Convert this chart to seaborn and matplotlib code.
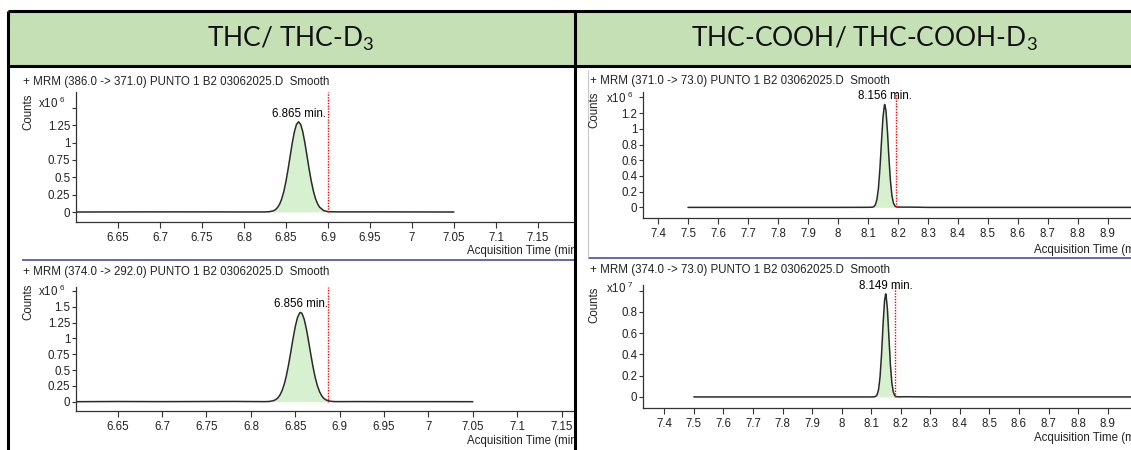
import numpy as np
import matplotlib
matplotlib.use("Agg")
import matplotlib.pyplot as plt
import seaborn as sns
from matplotlib.patches import Rectangle
from matplotlib.transforms import Bbox

W, H = 1131, 450

# column headers
headers = ["THC/ THC-D$_\\mathregular{3}$", "THC-COOH/ THC-COOH-D$_\\mathregular{3}$"]

# panel titles
titles = [
    "+ MRM (386.0 -> 371.0) PUNTO 1 B2 03062025.D  Smooth",
    "+ MRM (371.0 -> 73.0) PUNTO 1 B2 03062025.D  Smooth",
    "+ MRM (374.0 -> 292.0) PUNTO 1 B2 03062025.D  Smooth",
    "+ MRM (374.0 -> 73.0) PUNTO 1 B2 03062025.D  Smooth",
]
exponents = [6, 6, 6, 7]

# THC 386 -> 371 (x10^6 counts)
thc_time = [6.600, 6.700, 6.790, 6.825, 6.830, 6.835, 6.8375, 6.840, 6.8425, 6.845,
            6.8475, 6.850, 6.8525, 6.855, 6.8575, 6.860, 6.8625, 6.865, 6.8675, 6.870,
            6.8725, 6.875, 6.8775, 6.880, 6.8825, 6.885, 6.8875, 6.890, 6.895, 6.900,
            6.910, 6.950, 7.000, 7.050]
thc_counts = [0.000, 0.002, 0.001, 0.001, 0.004, 0.017, 0.034, 0.065, 0.114, 0.190,
              0.298, 0.441, 0.613, 0.804, 0.992, 1.153, 1.261, 1.300, 1.263, 1.158,
              1.000, 0.815, 0.626, 0.455, 0.310, 0.200, 0.122, 0.070, 0.020, 0.005,
              0.002, 0.002, 0.001, 0.000]

# THC-D3 374 -> 292 (x10^6 counts)
thcd_time = [6.600, 6.650, 6.700, 6.780, 6.815, 6.820, 6.825, 6.8275, 6.830, 6.8325,
             6.835, 6.8375, 6.840, 6.8425, 6.845, 6.8475, 6.850, 6.8525, 6.855, 6.856,
             6.8575, 6.860, 6.8625, 6.865, 6.8675, 6.870, 6.8725, 6.875, 6.8775, 6.880,
             6.8825, 6.885, 6.890, 6.895, 6.920, 6.950, 7.000, 7.050]
thcd_counts = [0.000, 0.003, 0.001, 0.004, 0.001, 0.003, 0.014, 0.029, 0.055, 0.099,
               0.170, 0.272, 0.412, 0.587, 0.788, 0.997, 1.186, 1.329, 1.403, 1.410,
               1.395, 1.306, 1.151, 0.956, 0.747, 0.550, 0.381, 0.249, 0.153, 0.089,
               0.048, 0.025, 0.006, 0.001, 0.002, 0.001, 0.001, 0.000]

# THC-COOH 371 -> 73 (x10^6 counts)
cooh_time = [7.500, 7.800, 8.000, 8.100, 8.115, 8.120, 8.125, 8.130, 8.135, 8.140,
             8.145, 8.150, 8.155, 8.156, 8.160, 8.165, 8.170, 8.175, 8.180, 8.185,
             8.190, 8.195, 8.200, 8.250, 8.300, 8.600, 9.000, 9.100]
cooh_counts = [0.000, 0.000, 0.000, 0.001, 0.003, 0.010, 0.035, 0.102, 0.247, 0.498,
               0.829, 1.143, 1.305, 1.310, 1.233, 0.965, 0.624, 0.335, 0.149, 0.055,
               0.017, 0.006, 0.004, 0.003, 0.000, 0.000, 0.000, 0.000]

# THC-COOH-D3 374 -> 73 (x10^7 counts)
coohd_time = [7.500, 7.800, 8.000, 8.100, 8.110, 8.115, 8.120, 8.125, 8.130, 8.135,
              8.140, 8.145, 8.149, 8.150, 8.155, 8.160, 8.165, 8.170, 8.175, 8.180,
              8.185, 8.190, 8.220, 8.300, 8.600, 9.000, 9.100]
coohd_counts = [0.000, 0.000, 0.000, 0.000, 0.001, 0.005, 0.021, 0.071, 0.189, 0.399,
                0.672, 0.902, 0.970, 0.966, 0.824, 0.560, 0.304, 0.131, 0.045, 0.012,
                0.003, 0.001, 0.002, 0.000, 0.000, 0.000, 0.000]

apex_rt = [6.865, 8.156, 6.856, 8.149]
ref_rt = [6.900, 8.193, 6.887, 8.182]
peak_start = [6.826, 8.117, 6.817, 8.110]
peak_end = [6.900, 8.193, 6.887, 8.182]

x_ticks_left = [6.65, 6.7, 6.75, 6.8, 6.85, 6.9, 6.95, 7.0, 7.05, 7.1, 7.15]
x_ticks_right = [7.4, 7.5, 7.6, 7.7, 7.8, 7.9, 8.0, 8.1, 8.2, 8.3, 8.4, 8.5, 8.6, 8.7, 8.8, 8.9]
y_ticks = [
    [0, 0.25, 0.5, 0.75, 1.0, 1.25, 1.5],
    [0, 0.2, 0.4, 0.6, 0.8, 1.0, 1.2, 1.4],
    [0, 0.25, 0.5, 0.75, 1.0, 1.25, 1.5, 1.75],
    [0, 0.2, 0.4, 0.6, 0.8, 1.0],
]

sns.set_theme(style="white")
plt.rcParams['font.family'] = ['Liberation Sans', 'DejaVu Sans']
plt.rcParams['mathtext.fontset'] = 'custom'

fig = plt.figure(figsize=(W / 100, H / 100), dpi=100)
fig.patch.set_facecolor("white")

under = fig.add_axes([0, 0, 1, 1], zorder=-1)
under.set_xlim(0, W)
under.set_ylim(H, 0)
under.axis("off")

over = fig.add_axes([0, 0, 1, 1], zorder=10)
over.set_xlim(0, W)
over.set_ylim(H, 0)
over.axis("off")
over.patch.set_alpha(0)

# table header
green = "#C5E0B4"
under.add_patch(Rectangle((8, 11), 567, 55, facecolor=green, edgecolor="none"))
under.add_patch(Rectangle((575, 11), 600, 55, facecolor=green, edgecolor="none"))
for x, t in zip([291, 864], headers):
    over.text(x, 39, t, ha="center", va="center", fontsize=19,
              family=["Lato", "DejaVu Sans"], color="#111111")
bw = 2.2
over.hlines([11, 66], 8, W, color="black", lw=bw)
over.vlines([8, 575], 11, H, color="black", lw=bw)

# separators of the chromatogram screenshots
over.hlines(260, 22, 574, color="#5a5aa8", lw=1.3)
over.hlines(258, 588, W, color="#5a5aa8", lw=1.3)
over.vlines(588, 70, 258, color="#c8c8d0", lw=0.8)

# panel boxes in pixels: x0, y0, x1, y1, xlim, ylim
boxes = [
    (76, 92, 574, 222, (6.600, 7.193), (-0.144, 1.729)),
    (643, 92, 1131, 218, (7.350, 8.977), (-0.135, 1.468)),
    (76, 287, 574, 411, (6.603, 7.164), (-0.147, 1.812)),
    (643, 285, 1131, 408, (7.328, 8.979), (-0.104, 1.054)),
]
series = [(thc_time, thc_counts), (cooh_time, cooh_counts),
          (thcd_time, thcd_counts), (coohd_time, coohd_counts)]
title_pos = [(23, 82), (590, 81), (23, 272), (590, 270)]
mult_pos = [(38, 103), (606, 98), (38, 291), (606, 288)]
counts_pos = [(28, 112), (594, 110), (28, 302), (594, 305)]
xlabel_pos = [(467, 251), (1034, 250), (467, 441), (1034, 438)]

fs = 8.3
ink = "#222222"
for i, (x0, y0, x1, y1, xl, yl) in enumerate(boxes):
    ax = fig.add_axes([x0 / W, 1 - y1 / H, (x1 - x0) / W, (y1 - y0) / H])
    ax.set_facecolor("white")
    t, c = np.array(series[i][0]), np.array(series[i][1])
    mask = (t >= peak_start[i]) & (t <= peak_end[i])
    ax.fill_between(t, c, 0, where=mask, color="#D6F0D0", lw=0, interpolate=True)
    sns.lineplot(x=t, y=c, ax=ax, color="#2a2a2a", linewidth=1.1, sort=False,
                 estimator=None)
    ax.vlines(ref_rt[i], 0, yl[1], colors="red", linestyles=(0, (1, 1)), lw=1)
    k = int(np.argmax(c))
    ax.annotate(f"{apex_rt[i]:.3f} min.", (t[k], c[k]), xytext=(0, 1.5),
                textcoords="offset points", ha="center", va="bottom",
                fontsize=fs, color="black")
    ax.set_xlim(*xl)
    ax.set_ylim(*yl)
    xt = x_ticks_left if i % 2 == 0 else x_ticks_right
    ax.set_xticks(xt)
    ax.set_xticklabels([f"{v:g}" for v in xt])
    yt = y_ticks[i]
    ax.set_yticks(yt)
    ax.set_yticklabels([f"{v:g}" for v in yt[:-1]] + [""])
    ax.tick_params(direction="out", width=0.8, color="#333333",
                   labelsize=fs, labelcolor=ink, left=True, bottom=True)
    ax.tick_params(axis="x", length=4, pad=3)
    ax.tick_params(axis="y", length=3, pad=1)
    for s in ["top", "right"]:
        ax.spines[s].set_visible(False)
    for s in ["left", "bottom"]:
        ax.spines[s].set_color("#333333")
        ax.spines[s].set_linewidth(0.9)
    ax.set_xlabel("")
    ax.set_ylabel("")

    over.text(*title_pos[i], titles[i], ha="left", va="center", fontsize=fs, color=ink)
    over.text(*mult_pos[i], f"x10 $^{{\\mathregular{{{exponents[i]}}}}}$", ha="left",
              va="center", fontsize=fs, color=ink)
    over.text(*counts_pos[i], "Counts", ha="center", va="center", rotation=90,
              fontsize=fs, color=ink)
    cell_right = 574 if i % 2 == 0 else W
    lab = over.text(*xlabel_pos[i], "Acquisition Time (min)", ha="left", va="center",
                    fontsize=fs, color=ink)
    lab.set_clip_box(Bbox.from_extents(0, 0, cell_right, H))
    lab.set_clip_on(True)

fig.savefig("out.png", dpi=100)
